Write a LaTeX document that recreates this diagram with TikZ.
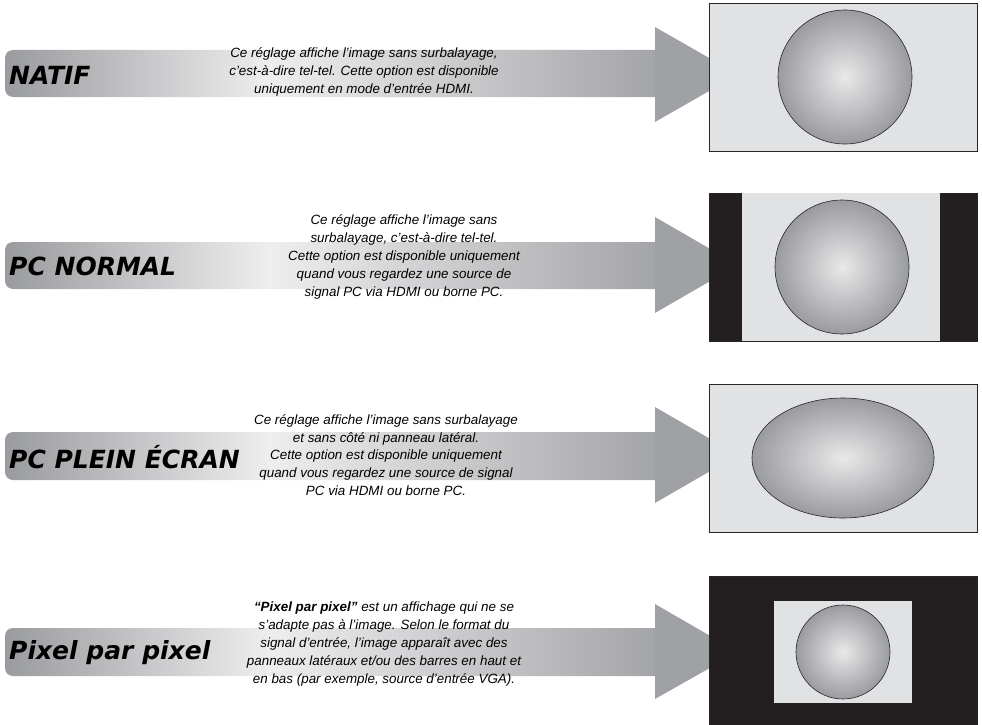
\documentclass[tikz,border=0pt]{standalone}
\usepackage{fontspec}
\setmainfont{Liberation Sans}
\newfontfamily\headfont{DejaVu Sans}
\usetikzlibrary{shapes.geometric}
\definecolor{barside}{HTML}{9A9B9E}
\definecolor{barlight}{HTML}{EEEEEF}
\definecolor{barend}{HTML}{A2A3A6}
\definecolor{arrowgray}{HTML}{A0A1A4}
\definecolor{scrlight}{HTML}{E1E2E4}
\definecolor{scrdark}{HTML}{231F20}
\definecolor{balledge}{HTML}{9A9B9E}
\definecolor{ballmid}{HTML}{E9E9EA}
\pgfdeclarehorizontalshading{barshade}{100bp}{color(0bp)=(barside); color(25bp)=(barside); color(45bp)=(barlight); color(75bp)=(barend); color(100bp)=(barend)}

\begin{document}
\begin{tikzpicture}[x=1pt, y=-1pt,
    modetxt/.style = {anchor=west, inner sep=0pt, font=\headfont\bfseries\itshape\fontsize{25}{25}\selectfont},
    desctxt/.style = {align=center, inner sep=0pt, font=\itshape\fontsize{13.4}{17.8}\selectfont},
    scr/.style = {draw=black!85, line width=0.8pt, fill=scrlight, minimum width=268pt, minimum height=148pt, inner sep=0pt},
    ballnode/.style = {draw=black!85, line width=0.6pt, circle, inner color=ballmid, outer color=balledge, inner sep=0pt}]
\useasboundingbox (0,0) rectangle (982,725);

% bars and arrow heads
\path[shading=barshade, rounded corners=8pt] (665,50) -- (5,50) -- (5,97) -- (665,97) -- cycle;
\path[shading=barshade, rounded corners=8pt] (665,242) -- (5,242) -- (5,289) -- (665,289) -- cycle;
\path[shading=barshade, rounded corners=8pt] (665,432) -- (5,432) -- (5,480) -- (665,480) -- cycle;
\path[shading=barshade, rounded corners=8pt] (665,628) -- (5,628) -- (5,676) -- (665,676) -- cycle;
\fill[arrowgray] (655,27) -- (738,74.5) -- (655,122) -- cycle;
\fill[arrowgray] (655,217) -- (738,265) -- (655,313) -- cycle;
\fill[arrowgray] (655,407) -- (738,455) -- (655,503) -- cycle;
\fill[arrowgray] (655,604) -- (738,652) -- (655,699) -- cycle;

% mode names
\node[modetxt] (natif) at (9,75) {NATIF};
\node[modetxt] (pcnormal) at (9,266) {PC NORMAL};
\node[modetxt] (pcplein) at (9,457) {PC PLEIN ÉCRAN};
\node[modetxt] (pixel) at (9,653) {Pixel par pixel};

% descriptions
\node[desctxt] (natifdesc) at (364,72) {Ce réglage affiche l’image sans surbalayage,\\c’est-à-dire tel-tel. Cette option est disponible\\uniquement en mode d’entrée HDMI.};
\node[desctxt] (pcnormaldesc) at (404,257) {Ce réglage affiche l’image sans\\surbalayage, c’est-à-dire tel-tel.\\Cette option est disponible uniquement\\quand vous regardez une source de\\signal PC via HDMI ou borne PC.};
\node[desctxt] (pcpleindesc) at (386,455) {Ce réglage affiche l’image sans surbalayage\\et sans côté ni panneau latéral.\\Cette option est disponible uniquement\\quand vous regardez une source de signal\\PC via HDMI ou borne PC.};
\node[desctxt] (pixeldesc) at (384,644) {{\bfseries “Pixel par pixel”} est un affichage qui ne se\\s’adapte pas à l’image. Selon le format du\\signal d’entrée, l’image apparaît avec des\\panneaux latéraux et/ou des barres en haut et\\en bas (par exemple, source d’entrée VGA).};

% screens
\node[scr] (natifscr) at (843,77) {};
\node[ballnode, minimum size=134pt] (natifball) at (845,77) {};

\node[scr, fill=scrdark] (pcnormalscr) at (843,267) {};
\node[fill=scrlight, minimum width=198pt, minimum height=148pt, inner sep=0pt] (pcnormalpane) at (841,267) {};
\node[ballnode, minimum size=134pt] (pcnormalball) at (842,267) {};

\node[scr] (pcpleinscr) at (843,458) {};
\node[ballnode, ellipse, minimum width=182pt, minimum height=120pt] (pcpleinball) at (843,458) {};

\node[scr, fill=scrdark, minimum height=150pt] (pixelscr) at (843,651) {};
\node[fill=scrlight, minimum width=138pt, minimum height=102pt, inner sep=0pt] (pixelpane) at (843,652) {};
\node[ballnode, minimum size=94pt] (pixelball) at (843,652) {};
\end{tikzpicture}
\end{document}
